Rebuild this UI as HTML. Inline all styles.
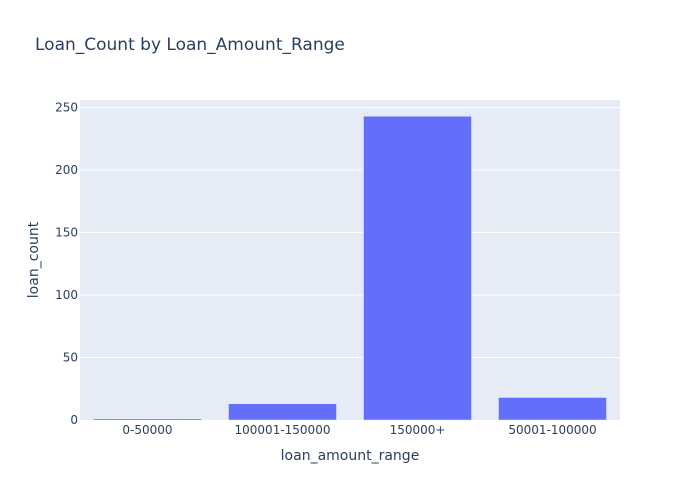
<!DOCTYPE html>
<html><head><meta charset="utf-8"><style>
body{margin:0;background:#fff;font-family:"DejaVu Sans","Liberation Sans",sans-serif;}
svg text{font-family:"DejaVu Sans","Liberation Sans",sans-serif;}
</style></head><body>
<svg id="chart" width="700" height="500" xmlns="http://www.w3.org/2000/svg">
<rect width="700" height="500" fill="#fff"/>
<text x="35" y="50" font-size="17" fill="#2a3f5f">Loan_Count by Loan_Amount_Range</text>
<rect x="80" y="100" width="540" height="320" fill="#e5ecf6"/>
<g id="grid"></g><g id="bars"></g><g id="yticks"></g><g id="xticks"></g>
<text x="350" y="460" font-size="14" fill="#2a3f5f" text-anchor="middle">loan_amount_range</text>
<text x="38" y="260" font-size="14" fill="#2a3f5f" text-anchor="middle" transform="rotate(-90 38 260)">loan_count</text>
</svg>
<script>
const categories=["0-50000","100001-150000","150000+","50001-100000"];
const values=[1,13,243,18];
const yTicks=[0,50,100,150,200,250];
const ns="http://www.w3.org/2000/svg";
const x0=80,w=540,y0=420,h=320,yMax=256;
const y=v=>y0-v/yMax*h;
const band=w/categories.length;
function mk(t,a,p){const e=document.createElementNS(ns,t);for(const k in a)e.setAttribute(k,a[k]);document.getElementById(p).appendChild(e);return e;}
yTicks.forEach(t=>{
 if(t>0){const l=mk('line',{x1:x0,x2:x0+w,y1:y(t),y2:y(t),stroke:'#fff','stroke-width':1},'grid');
 
 }
 const tx=mk('text',{x:x0-2,y:y(t)+4,'font-size':12,fill:'#2a3f5f','text-anchor':'end'},'yticks');
 tx.textContent=t;
 
 
});
categories.forEach((c,i)=>{
 const bx=x0+band*i+band*0.1,bw=band*0.8;
 const r=mk('rect',{x:bx,y:y(values[i]),width:bw,height:y0-y(values[i]),fill:'#636efa',stroke:'#e5ecf6','stroke-width':0.5},'bars');
 
 
 const tx=mk('text',{x:x0+band*(i+0.5),y:y0+14,'font-size':12,fill:'#2a3f5f','text-anchor':'middle'},'xticks');
 tx.textContent=c;
 
 
});
</script>
</body></html>
